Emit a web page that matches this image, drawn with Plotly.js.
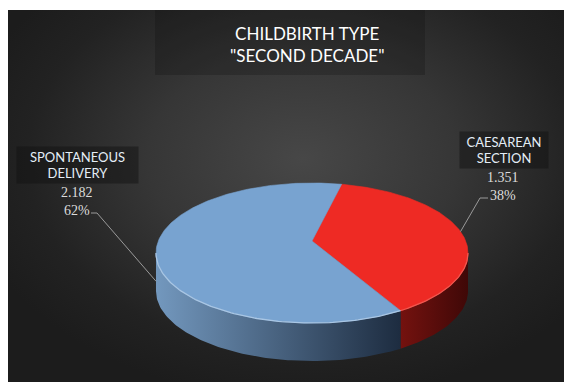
<!DOCTYPE html>
<html><head><meta charset="utf-8">
<script src="https://cdn.plot.ly/plotly-3.0.1.min.js"></script>
<style>
html,body{margin:0;padding:0;background:#fff;width:564px;height:382px;overflow:hidden}
#bg{position:absolute;left:8px;top:10px;width:556px;height:372px;
 background:radial-gradient(ellipse 62% 65% at 53% 40%, #474747 0%, #363636 45%, #222 80%, #1c1c1c 100%);}
#chart{position:absolute;left:0;top:0;width:564px;height:382px}
</style></head><body><div id="bg"></div><div id="chart"></div>
<script>
// ---- data ----
const categories = ['CAESAREAN<br>SECTION', 'SPONTANEOUS<br>DELIVERY'];
const values = [1351, 2182];
const titleLines = ['CHILDBIRTH TYPE', '"SECOND DECADE"'];

// ---- styles / geometry (layout, not data) ----
const topColors = ['#ee2a24', '#78a3d0'];
const edgeColors = ['#f2574f', '#a9c6e4'];
const wallScales = [
  [[0, '#74120f'], [1, '#3f0807']],
  [[0, '#7398be'], [1, '#1d2c40']]
];
const geo = {cx: 312, cy: 241, A: 67.94, B: 153.7, k: 0.1714, thick: 38, rot: 13};
const labelPos = [
  {name: [504, 150], nameW: 86, val: [503, 186], elbow: [480, 198], end: [488, 198]},
  {name: [77.5, 165], nameW: 119, val: [77, 201], elbow: [97, 213], end: [91, 213]}
];

const rad = d => d * Math.PI / 180;
function P(theta, dy) {
  const u = -Math.cos(rad(theta)), v = Math.sin(rad(theta));
  const den = 1 - geo.k * u;
  return [geo.cx + geo.B * v / den, geo.cy + geo.A * u / den + (dy || 0)];
}
function arc(a, b, dy) {
  const pts = [], n = Math.max(2, Math.ceil(Math.abs(b - a)));
  for (let i = 0; i <= n; i++) pts.push(P(a + (b - a) * i / n, dy));
  return pts;
}
const fmt = v => String(v).replace(/\B(?=(\d{3})+(?!\d))/g, '.');

const total = values.reduce((s, v) => s + v, 0);
const sil0 = Math.acos(-geo.k) * 180 / Math.PI;   // visible side from here
const sil1 = 360 - sil0;                           // to here

const walls = [], tops = [], edges = [], leaders = [], annotations = [];
let start = geo.rot;
values.forEach((v, i) => {
  const sweep = v / total * 360;
  const a = start, b = start + sweep, m = start + sweep / 2;
  const s = Math.max(a, sil0), e = Math.min(b, sil1);
  if (e > s) {
    const up = arc(s, e, 0), dn = arc(e, s, geo.thick);
    const pts = up.concat(dn);
    walls.push({type: 'scatter', mode: 'lines', x: pts.map(p => p[0]), y: pts.map(p => p[1]),
      fill: 'toself', line: {width: 0, color: 'rgba(0,0,0,0)'},
      fillgradient: {type: 'horizontal', colorscale: wallScales[i]},
      hoverinfo: 'skip', showlegend: false});
    const ed = arc(s, e, 0);
    edges.push({type: 'scatter', mode: 'lines', x: ed.map(p => p[0]), y: ed.map(p => p[1]),
      line: {width: 1.3, color: edgeColors[i]}, hoverinfo: 'skip', showlegend: false});
  }
  const tp = [[geo.cx, geo.cy]].concat(arc(a, b, 0), [[geo.cx, geo.cy]]);
  tops.push({type: 'scatter', mode: 'lines', x: tp.map(p => p[0]), y: tp.map(p => p[1]),
    fill: 'toself', fillcolor: topColors[i], line: {width: 0.6, color: topColors[i]},
    name: categories[i].replace('<br>', ' '), hoverinfo: 'name', showlegend: false});
  const u = -Math.cos(rad(m));
  const anc = P(m, u > 0 ? geo.thick * 0.8 : 0);
  const L = labelPos[i];
  leaders.push({type: 'scatter', mode: 'lines',
    x: [anc[0], L.elbow[0], L.end[0]], y: [anc[1], L.elbow[1], L.end[1]],
    line: {width: 1, color: '#9a9a9a'}, hoverinfo: 'skip', showlegend: false});
  annotations.push({x: L.name[0], y: L.name[1], xref: 'x', yref: 'y', showarrow: false,
    text: categories[i], width: L.nameW, height: 34, bgcolor: 'rgba(18,18,18,0.5)',
    font: {family: 'Lato, "Open Sans", sans-serif', size: 13, color: '#e4edf6'}, align: 'center'});
  annotations.push({x: L.val[0], y: L.val[1], xref: 'x', yref: 'y', showarrow: false,
    text: fmt(v) + '<br>' + Math.round(v / total * 100) + '%',
    font: {family: '"Liberation Serif", "Times New Roman", serif', size: 14, color: '#dcdcdc'}, align: 'center'});
  start = b;
});

annotations.push({x: 307, y: 44, xref: 'x', yref: 'y', showarrow: false,
  text: titleLines.join('<br>'),
  font: {family: 'Lato, "Open Sans", sans-serif', size: 17, color: '#ffffff'}, align: 'center'});

const layout = {
  width: 564, height: 382, margin: {l: 0, r: 0, t: 0, b: 0},
  paper_bgcolor: 'rgba(0,0,0,0)', plot_bgcolor: 'rgba(0,0,0,0)',
  xaxis: {range: [0, 564], visible: false, fixedrange: true},
  yaxis: {range: [382, 0], visible: false, fixedrange: true},
  shapes: [{type: 'rect', xref: 'x', yref: 'y', x0: 155, x1: 425, y0: 10, y1: 75,
    fillcolor: 'rgba(10,10,10,0.22)', line: {width: 0}, layer: 'below'}],
  annotations: annotations,
  showlegend: false
};
Plotly.newPlot('chart', walls.concat(tops, edges, leaders), layout, {displayModeBar: false, staticPlot: true});
</script></body></html>
